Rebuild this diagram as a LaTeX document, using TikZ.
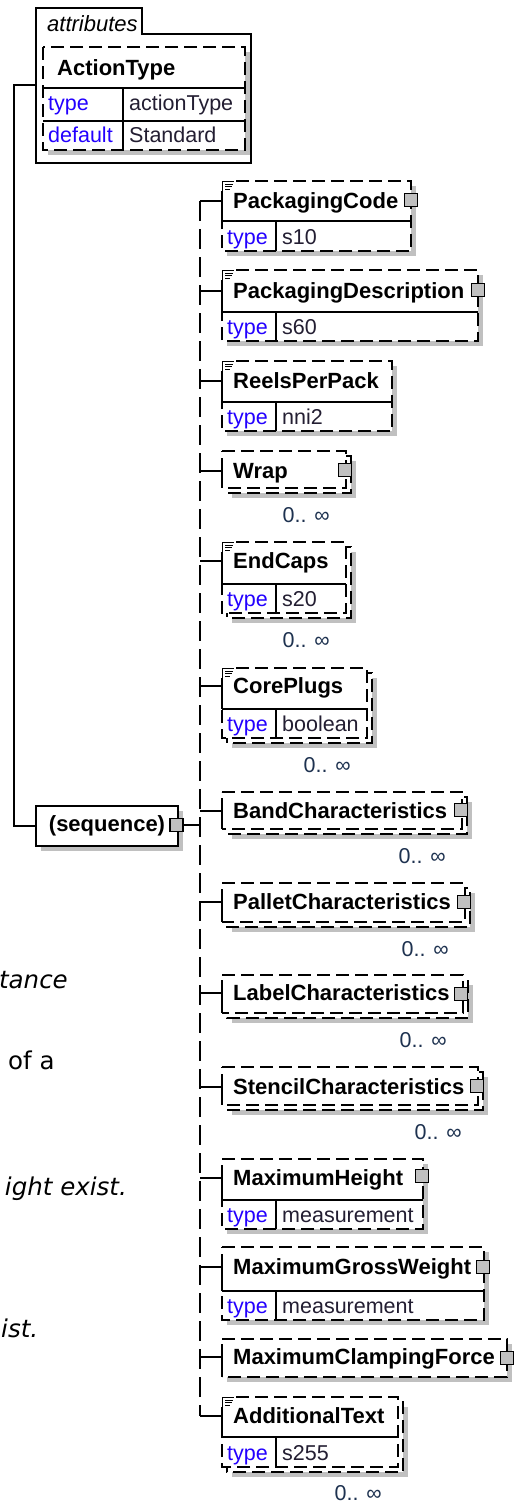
\documentclass[tikz,border=0pt]{standalone}
\usepackage{fontspec}
\setmainfont{Liberation Sans}
\newfontfamily\fragfont{DejaVu Sans}
\definecolor{typeblue}{RGB}{35,0,255}
\definecolor{valcol}{RGB}{35,30,50}
\definecolor{multcol}{RGB}{30,50,80}
\definecolor{shadowgray}{RGB}{192,192,192}
\definecolor{sqgray}{RGB}{192,192,192}
\tikzset{
  bx/.style={draw=black,line width=1.4pt},
  dsh/.style={dash pattern=on 13pt off 6pt},
  spine/.style={draw=black,line width=1.4pt,dash pattern=on 20pt off 8pt},
  ename/.style={font=\fontsize{22}{24}\selectfont\bfseries,inner sep=0pt,anchor=base west},
  tname/.style={font=\fontsize{21.5}{24}\selectfont,text=typeblue,inner sep=0pt,anchor=base west},
  tval/.style={font=\fontsize{21.5}{24}\selectfont,text=valcol,inner sep=0pt,anchor=base west},
  mult/.style={font=\fontsize{21.5}{24}\selectfont,text=multcol,inner sep=0pt,anchor=base east},
  sq/.style={draw=black,fill=sqgray,line width=1.2pt,minimum size=13pt,inner sep=0pt},
  seqbox/.style={draw=black,fill=white,line width=1.4pt,minimum width=142pt,minimum height=40pt,inner sep=0pt,font=\fontsize{22}{24}\selectfont\bfseries},
  frag/.style={font=\fragfont\fontsize{24.5}{28}\selectfont,inner sep=0pt},
}
% T H B R C startX multi
\newcommand\ElemBox[7]{%
  \ifnum#7=1
    \fill[shadowgray] (232,#1+10) rectangle (#4+10,#3+10);
    \draw[bx,dsh,fill=white] (227,#1+5) rectangle (#4+5,#3+5);
  \else
    \fill[shadowgray] (227,#1+5) rectangle (#4+5,#3+5);
  \fi
  \fill[white] (222,#1) rectangle (#4,#3);
  \draw[bx,dsh] (#6,#1) -- (#4,#1) -- (#4,#3) -- (222,#3) -- (222,#2);
  \draw[bx] (222,#5) -- (222,#2);
  \draw[bx,dsh] (222,#5) -- (222,#1);
}
\newcommand\ElIcon[1]{%
  \fill[white] (221,#1-1) rectangle (235,#1+10);
  \draw[line width=0.9pt] (222.5,#1) -- (222.5,#1+10)
    (222,#1+0.5) -- (234,#1+0.5)
    (225,#1+3) -- (233,#1+3)
    (225,#1+5.5) -- (232,#1+5.5)
    (225,#1+8) -- (230,#1+8);
}
% H B R value id
\newcommand\ElType[5]{%
  \draw[bx] (222,#1) -- (#3,#1);
  \draw[bx] (276,#1) -- (276,#2);
  \node[tname] (#5k) at (227,#2-6.5) {type};
  \node[tval] (#5v) at (282,#2-6.5) {#4};
}
\begin{document}
\begin{tikzpicture}[x=1pt,y=-1pt]
\useasboundingbox (0,0) rectangle (515,1502);
\fill[white] (0,0) rectangle (515,1502);

% ---------- attributes box ----------
\draw[bx,fill=white] (36,163) -- (36,8) -- (142,8) -- (142,34) -- (251,34) -- (251,163) -- cycle;
\node[font=\fontsize{22}{24}\selectfont\itshape,inner sep=0pt,anchor=base west] (attrlbl) at (47,31) {attributes};
\fill[shadowgray] (48,52) rectangle (250,155);
\fill[white] (43,47) rectangle (245,150);
\draw[bx,dsh] (43,47) rectangle (245,150);
\draw[bx] (43,88) -- (245,88) (43,121) -- (245,121) (123,88) -- (123,150);
\node[ename] (atname) at (57,75) {ActionType};
\node[tname] (at1k) at (48,110) {type};
\node[tval] (at1v) at (129,110) {actionType};
\node[tname] (at2k) at (48,142) {default};
\node[tval] (at2v) at (129,142) {Standard};

% ---------- sequence ----------
\fill[shadowgray] (41,811) rectangle (183,851);
\node[seqbox] (seq) at (107,826) {(sequence)};
\node[sq] (seqsq) at (176.5,825) {};
\coordinate (attrL) at (36,85);
\coordinate (c1) at (14,85);
\coordinate (c2) at (14,826);
\draw[bx] (attrL) -- (c1) -- (c2) -- (seq.west);
\coordinate (spseq) at (200,825);
\draw[bx] (seqsq.east) -- (spseq);

% ---------- spine coordinates ----------
\foreach \i/\c in {1/201,2/291,3/381,4/471,5/561,6/686,7/811,8/902,9/993,10/1087,11/1178,12/1267,13/1357,14/1416}{
  \coordinate (sp\i) at (200,\c);
  \coordinate (e\i) at (222,\c);
}
\draw[spine] (sp1) -- (sp14);
\foreach \i in {1,...,14}{ \draw[bx] (sp\i) -- (e\i); }

% 1 PackagingCode
\ElemBox{181}{221}{251}{411}{201}{236}{0}
\ElIcon{181}
\ElType{221}{251}{411}{s10}{t1}
\node[ename] (n1) at (233,208) {PackagingCode};
\node[sq] (q1) at (411,200) {};

% 2 PackagingDescription
\ElemBox{270}{312}{341}{478}{291}{236}{0}
\ElIcon{270}
\ElType{312}{341}{478}{s60}{t2}
\node[ename] (n2) at (233,298) {PackagingDescription};
\node[sq] (q2) at (478,290) {};

% 3 ReelsPerPack
\ElemBox{361}{402}{431}{392}{381}{236}{0}
\ElIcon{361}
\ElType{402}{431}{392}{nni2}{t3}
\node[ename] (n3) at (233,388) {ReelsPerPack};

% 4 Wrap
\ElemBox{451}{488}{488}{346}{471}{222}{1}
\node[ename] (n4) at (233,478) {Wrap};
\node[sq] (q4) at (345,470) {};
\node[mult] (m4) at (330,522) {0.. ∞};

% 5 EndCaps
\ElemBox{542}{584}{613}{346}{561}{236}{1}
\ElIcon{542}
\ElType{584}{613}{346}{s20}{t5}
\node[ename] (n5) at (233,568) {EndCaps};
\node[mult] (m5) at (330,647) {0.. ∞};

% 6 CorePlugs
\ElemBox{668}{709}{738}{367}{686}{236}{1}
\ElIcon{668}
\ElType{709}{738}{367}{boolean}{t6}
\node[ename] (n6) at (233,693) {CorePlugs};
\node[mult] (m6) at (351,772) {0.. ∞};

% 7 BandCharacteristics
\ElemBox{792}{829}{829}{462}{811}{222}{1}
\node[ename] (n7) at (233,818) {BandCharacteristics};
\node[sq] (q7) at (461,810) {};
\node[mult] (m7) at (446,863) {0.. ∞};

% 8 PalletCharacteristics
\ElemBox{883}{922}{922}{465}{902}{222}{1}
\node[ename] (n8) at (233,909) {PalletCharacteristics};
\node[sq] (q8) at (464,902) {};
\node[mult] (m8) at (449,956) {0.. ∞};

% 9 LabelCharacteristics
\ElemBox{975}{1013}{1013}{463}{993}{222}{1}
\node[ename] (n9) at (233,1000) {LabelCharacteristics};
\node[sq] (q9) at (461,994) {};
\node[mult] (m9) at (447,1047) {0.. ∞};

% 10 StencilCharacteristics
\ElemBox{1067}{1105}{1105}{478}{1087}{222}{1}
\node[ename] (n10) at (233,1094) {StencilCharacteristics};
\node[sq] (q10) at (477,1086) {};
\node[mult] (m10) at (462,1139) {0.. ∞};

% 11 MaximumHeight
\ElemBox{1159}{1200}{1229}{423}{1178}{222}{0}
\ElType{1200}{1229}{423}{measurement}{t11}
\node[ename] (n11) at (233,1185) {MaximumHeight};
\node[sq] (q11) at (422,1176) {};

% 12 MaximumGrossWeight
\ElemBox{1247}{1291}{1320}{484}{1267}{222}{0}
\ElType{1291}{1320}{484}{measurement}{t12}
\node[ename] (n12) at (233,1274) {MaximumGrossWeight};
\node[sq] (q12) at (483,1267) {};

% 13 MaximumClampingForce
\ElemBox{1339}{1377}{1377}{507}{1357}{222}{0}
\node[ename] (n13) at (233,1364) {MaximumClampingForce};
\node[sq] (q13) at (507,1358) {};

% 14 AdditionalText
\ElemBox{1397}{1437}{1467}{398}{1416}{236}{1}
\ElIcon{1397}
\ElType{1437}{1467}{398}{s255}{t14}
\node[ename] (n14) at (233,1423) {AdditionalText};
\node[mult] (m14) at (382,1500) {0.. ∞};

% ---------- cropped page text on the left ----------
\node[frag,anchor=base east] (f1) at (68,988) {\itshape tance};
\node[frag,anchor=base west] (f2) at (8,1069) {of a};
\node[frag,anchor=base east] (f3) at (127,1195) {\itshape ight exist.};
\node[frag,anchor=base west] (f4) at (1,1337) {\itshape ist.};
\end{tikzpicture}
\end{document}
